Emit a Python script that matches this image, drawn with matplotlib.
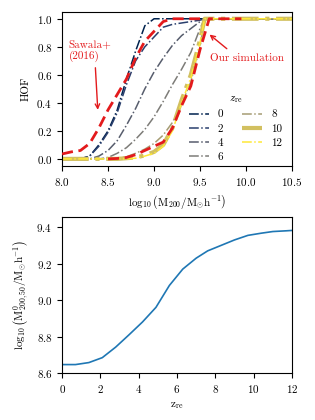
import matplotlib
matplotlib.use("Agg")
import matplotlib.pyplot as plt
from matplotlib import cm

plt.rcParams['font.family'] = 'serif'
plt.rcParams['font.serif'] = ['cmr10', 'DejaVu Serif']
plt.rcParams['mathtext.fontset'] = 'cm'
plt.rcParams['axes.formatter.use_mathtext'] = True
plt.rcParams['axes.unicode_minus'] = False
plt.rcParams['font.size'] = 8

# --- top panel: halo occupation fraction ---
mass = [8.0, 8.1, 8.2, 8.3, 8.4, 8.5, 8.6, 8.7, 8.8, 8.9, 9.0, 9.1, 9.2, 9.3,
        9.4, 9.5, 9.55, 9.6, 10.0, 10.5]
z_re = [0, 2, 4, 6, 8, 10, 12]
hof_z0 = [0, 0, 0, 0.02, 0.1, 0.2, 0.35, 0.57, 0.77, 0.95, 1.0, 1, 1, 1, 1, 1, 1, 1, 1, 1]
hof_z2 = [0, 0, 0, 0.02, 0.09, 0.19, 0.33, 0.53, 0.7, 0.8, 0.87, 0.94, 0.96, 0.97, 0.98, 0.99, 1.0, 1, 1, 1]
hof_z4 = [0, 0, 0, 0, 0.02, 0.06, 0.13, 0.24, 0.36, 0.5, 0.62, 0.72, 0.81, 0.88, 0.93, 0.98, 1.0, 1, 1, 1]
hof_z6 = [0, 0, 0, 0, 0, 0.01, 0.04, 0.08, 0.14, 0.21, 0.3, 0.41, 0.53, 0.64, 0.76, 0.93, 1.0, 1, 1, 1]
hof_z8 = [0, 0, 0, 0, 0, 0, 0.005, 0.015, 0.04, 0.07, 0.11, 0.17, 0.26, 0.39, 0.55, 0.8, 1.0, 1, 1, 1]
hof_z10 = [0, 0, 0, 0, 0, 0, 0, 0.005, 0.01, 0.025, 0.05, 0.1, 0.22, 0.42, 0.6, 0.85, 1.0, 1, 1, 1]
hof_z12 = [0, 0, 0, 0, 0, 0, 0, 0, 0.005, 0.02, 0.04, 0.09, 0.2, 0.4, 0.58, 0.83, 1.0, 1, 1, 1]
hof_all = [hof_z0, hof_z2, hof_z4, hof_z6, hof_z8, hof_z10, hof_z12]

sim_mass = [8.5, 8.6, 8.7, 8.8, 8.9, 9.0, 9.1, 9.2, 9.3, 9.4, 9.5, 9.6, 9.95]
sim_hof = [0, 0.003, 0.01, 0.03, 0.06, 0.09, 0.12, 0.22, 0.38, 0.52, 0.78, 1.0, 1.0]

saw_mass = [8.0, 8.1, 8.2, 8.3, 8.4, 8.5, 8.6, 8.7, 8.8, 8.9, 9.0, 9.1, 9.2, 9.5]
saw_hof = [0.035, 0.05, 0.06, 0.11, 0.22, 0.35, 0.46, 0.57, 0.72, 0.84, 0.91, 0.98, 1.0, 1.0]

# --- bottom panel: characteristic mass vs reionisation redshift ---
zre_grid = [0, 0.7, 1.4, 2.1, 2.8, 3.5, 4.2, 4.9, 5.6, 6.3, 7.0, 7.6, 8.3,
            9.0, 9.7, 10.4, 11.0, 11.7, 12.0]
log_m50 = [8.646, 8.646, 8.657, 8.684, 8.742, 8.81, 8.88, 8.96, 9.08, 9.17,
           9.23, 9.27, 9.30, 9.33, 9.355, 9.367, 9.376, 9.38, 9.382]

red = '#e31a1c'

fig = plt.figure(figsize=(3.15, 4.2), dpi=100)
ax1 = fig.add_axes([0.197, 0.605, 0.730, 0.367])
ax2 = fig.add_axes([0.197, 0.112, 0.730, 0.371])

for z, hof in zip(z_re, hof_all):
    lw = 3 if z == 10 else 1.1
    ax1.plot(mass, hof, ls='-.', lw=lw, color=cm.cividis(z / 12), label=str(z))

ax1.plot(saw_mass, saw_hof, ls=(0, (4, 2)), lw=2, color=red, zorder=5)
ax1.plot(sim_mass, sim_hof, ls=(0, (4, 2)), lw=2, color=red, zorder=5)

ax1.annotate('Sawala+\n(2016)', xy=(8.39, 0.33), xytext=(8.07, 0.77),
             color=red, ha='left', va='center', fontsize=8,
             arrowprops=dict(arrowstyle='->', color=red, lw=1,
                             relpos=(0.62, 0.0)))
ax1.annotate('Our simulation', xy=(9.58, 0.9), xytext=(9.61, 0.72),
             color=red, ha='left', va='center', fontsize=8,
             arrowprops=dict(arrowstyle='->', color=red, lw=1,
                             relpos=(0.3, 1.0)))

ax1.set_xlim(8.0, 10.5)
ax1.set_ylim(-0.05, 1.05)
ax1.set_xticks([8.0, 8.5, 9.0, 9.5, 10.0, 10.5])
ax1.set_yticks([0.0, 0.2, 0.4, 0.6, 0.8, 1.0])
ax1.set_xlabel(r'$\log_{10}\left(\mathrm{M_{200}/M_{\odot}h^{-1}}\right)$')
ax1.set_ylabel('HOF')
ax1.legend(ncol=2, frameon=False, title=r'$z_{\rm re}$', loc='lower right',
           fontsize=8, handlelength=1.8, columnspacing=1.7, labelspacing=0.4,
           bbox_to_anchor=(1.0, -0.04))

ax2.plot(zre_grid, log_m50, color='#1f77b4', lw=1.2)
ax2.set_xlim(0, 12)
ax2.set_ylim(8.6, 9.455)
ax2.set_xticks([0, 2, 4, 6, 8, 10, 12])
ax2.set_yticks([8.6, 8.8, 9.0, 9.2, 9.4])
ax2.set_xlabel(r'$\mathrm{z_{re}}$')
ax2.set_ylabel(r'$\log_{10}\left(\mathrm{M^{0}_{200,50}/M_{\odot}h^{-1}}\right)$')

fig.savefig('out.png', dpi=100)
